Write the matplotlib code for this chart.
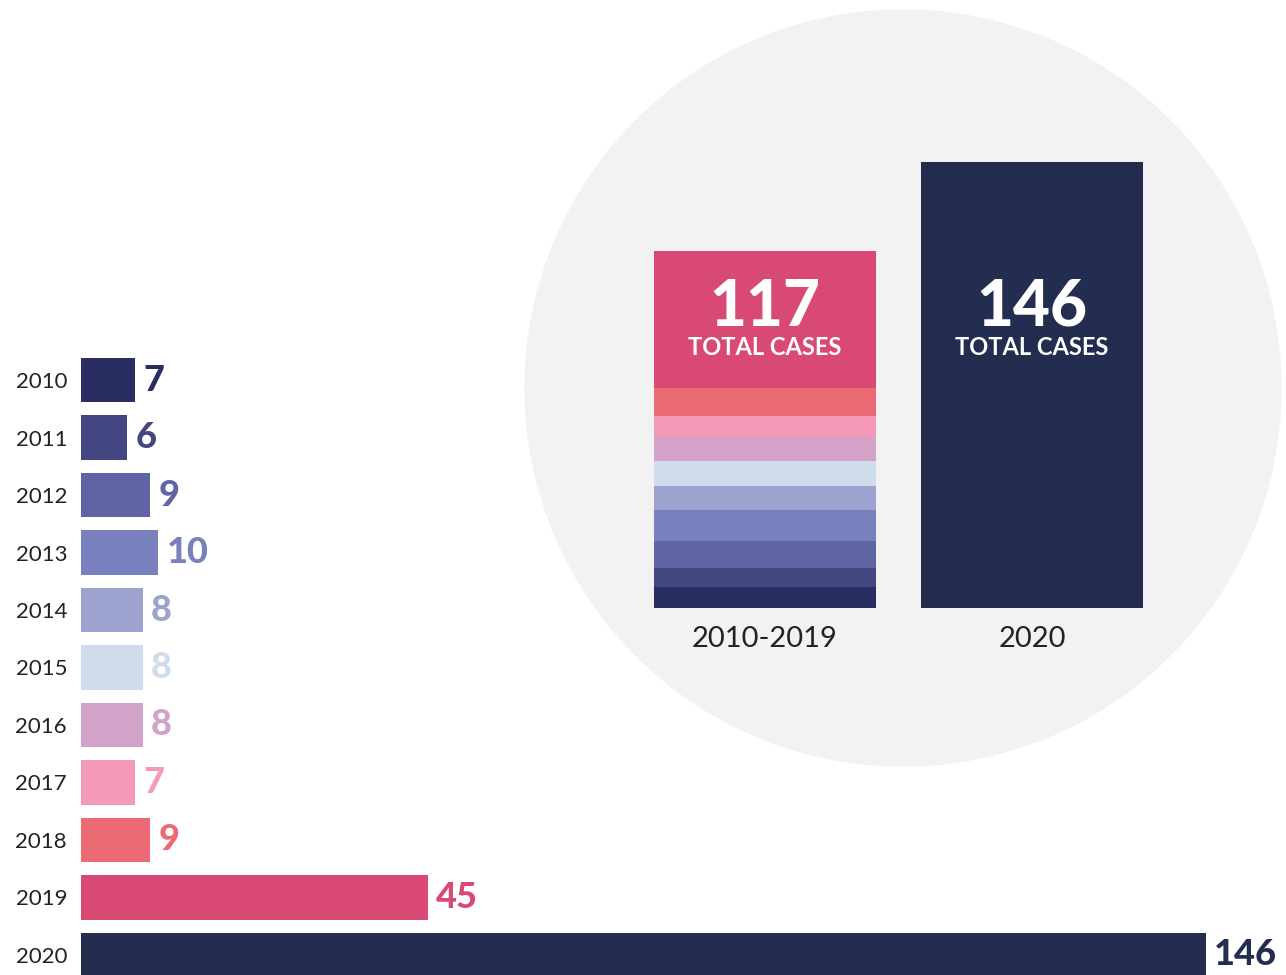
import matplotlib.pyplot as plt
from matplotlib.patches import Ellipse

plt.rcParams['font.family'] = ['Lato', 'DejaVu Sans']

years = ['2010', '2011', '2012', '2013', '2014', '2015', '2016', '2017', '2018', '2019', '2020']
cases = [7, 6, 9, 10, 8, 8, 8, 7, 9, 45, 146]
colors = ['#2a2d62', '#434681', '#5f64a4', '#7880bd', '#9ea2cf', '#cfdcec',
          '#d3a2c8', '#f49ab8', '#ec6a74', '#d84a74', '#232d50']
group_labels = ['2010-2019', '2020']

fig = plt.figure(figsize=(12.86, 9.75), dpi=100)

# horizontal bars per year
ax1 = fig.add_axes([81 / 1286, 0, 1205 / 1286, 1])
ypos = list(range(len(years)))
ax1.barh(ypos, cases, height=0.78, color=colors)
ax1.set_xlim(0, 156.4)
ax1.set_ylim(10.348, -6.609)
ax1.set_yticks(ypos)
ax1.set_yticklabels(years, fontsize=16, color='#222222')
ax1.tick_params(axis='y', length=0, pad=10)
ax1.set_xticks([])
for s in ax1.spines.values():
    s.set_visible(False)
for i, v in enumerate(cases):
    ax1.annotate(str(v), xy=(v, i), xytext=(6, 0), textcoords='offset points',
                 ha='left', va='center', fontsize=26, fontweight='black',
                 color=colors[i])

# grey circle behind the comparison
ax1.add_patch(Ellipse((903 / 1286, 1 - 388 / 975), 756 / 1286, 756 / 975,
                      transform=fig.transFigure, color='#f2f2f2', zorder=0,
                      clip_on=False))

# stacked 2010-2019 vs 2020
ax2 = fig.add_axes([0, 0, 1, 1])
ax2.patch.set_alpha(0)
ax2.set_xlim(-2.865, 1.951)
ax2.set_ylim(-120.14, 199.03)
bottom = 0
for i in range(10):
    ax2.bar(0, cases[i], bottom=bottom, width=0.831, color=colors[i])
    bottom += cases[i]
ax2.bar(1, cases[10], width=0.831, color=colors[10])
totals = [sum(cases[:10]), cases[10]]
for x, t in zip([0, 1], totals):
    ax2.text(x, 98.5, str(t), ha='center', va='center', fontsize=46,
             fontweight='black', color='white')
    ax2.text(x, 85.4, 'TOTAL CASES', ha='center', va='center', fontsize=17,
             fontweight='bold', color='white')
    ax2.text(x, -10, group_labels[x], ha='center', va='center', fontsize=21,
             color='#222222')
ax2.axis('off')

fig.savefig('out.png', dpi=100)
